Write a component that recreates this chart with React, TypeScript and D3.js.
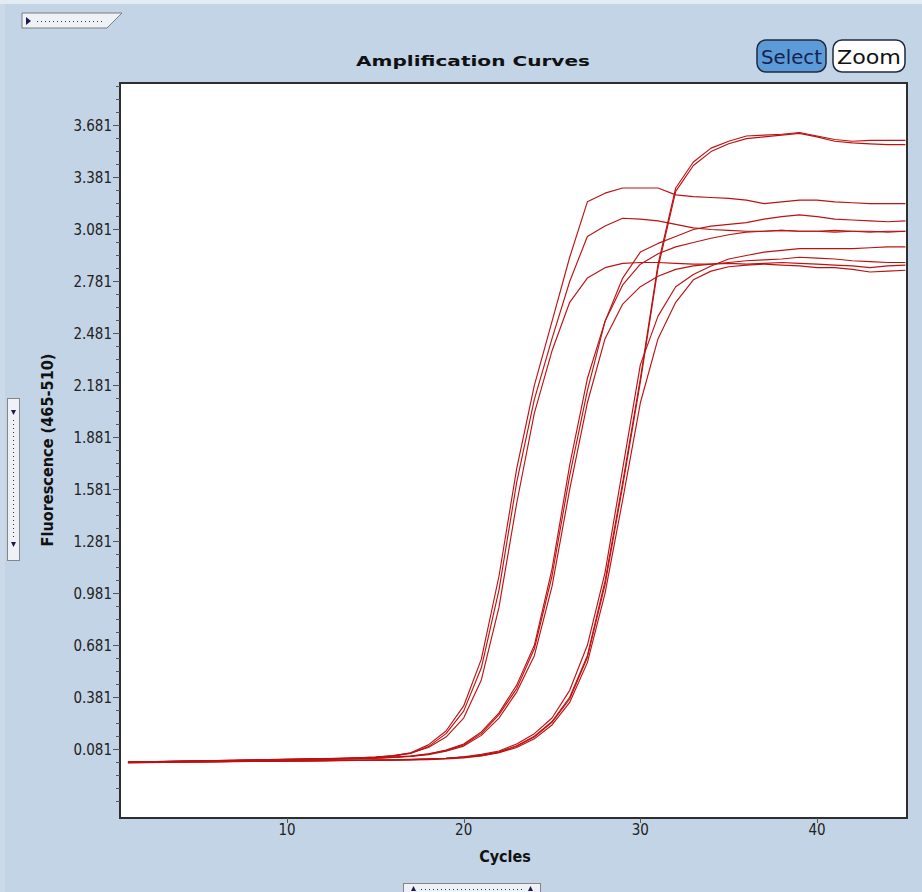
import { useEffect, useRef } from 'react'
import * as d3 from 'd3'

const cycles = [
  1, 2, 3, 4, 5, 6, 7, 8, 9, 10, 11, 12, 13, 14, 15, 16, 17, 18, 19, 20, 21, 22, 23,
  24, 25, 26, 27, 28, 29, 30, 31, 32, 33, 34, 35, 36, 37, 38, 39, 40, 41, 42, 43, 44, 45,
]

// early group
const curveA = [
  0.006, 0.008, 0.009, 0.011, 0.013, 0.014, 0.016, 0.018, 0.02, 0.021, 0.023, 0.025, 0.027, 0.03, 0.034,
  0.042, 0.06, 0.105, 0.185, 0.33, 0.6, 1.08, 1.7, 2.18, 2.55, 2.92, 3.24, 3.29, 3.32, 3.32,
  3.32, 3.28, 3.27, 3.265, 3.26, 3.25, 3.23, 3.24, 3.25, 3.25, 3.24, 3.235, 3.23, 3.23, 3.23,
]
const curveB = [
  0.005, 0.007, 0.009, 0.01, 0.012, 0.014, 0.015, 0.017, 0.019, 0.021, 0.022, 0.024, 0.026, 0.029, 0.032,
  0.04, 0.056, 0.095, 0.17, 0.3, 0.55, 1.0, 1.62, 2.1, 2.45, 2.78, 3.04, 3.1, 3.145, 3.14,
  3.13, 3.11, 3.09, 3.08, 3.075, 3.07, 3.07, 3.075, 3.07, 3.07, 3.065, 3.07, 3.07, 3.065, 3.07,
]
const curveC = [
  0.007, 0.008, 0.01, 0.012, 0.013, 0.015, 0.017, 0.019, 0.02, 0.022, 0.024, 0.026, 0.028, 0.031, 0.035,
  0.043, 0.058, 0.09, 0.15, 0.26, 0.48, 0.9, 1.5, 2.02, 2.38, 2.66, 2.8, 2.86, 2.885, 2.89,
  2.89, 2.885, 2.88, 2.88, 2.885, 2.88, 2.885, 2.89, 2.885, 2.88, 2.875, 2.87, 2.86, 2.87, 2.875,
]

// middle group
const curveM1 = [
  0.005, 0.006, 0.008, 0.009, 0.011, 0.012, 0.014, 0.016, 0.017, 0.019, 0.021, 0.022, 0.024, 0.026, 0.029,
  0.033, 0.04, 0.052, 0.075, 0.11, 0.18, 0.29, 0.45, 0.68, 1.12, 1.72, 2.22, 2.55, 2.8, 2.95,
  3.0, 3.04, 3.08, 3.1, 3.11, 3.12, 3.14, 3.155, 3.165, 3.155, 3.14, 3.135, 3.13, 3.125, 3.13,
]
const curveM2 = [
  0.006, 0.007, 0.009, 0.01, 0.012, 0.013, 0.015, 0.016, 0.018, 0.02, 0.021, 0.023, 0.025, 0.027, 0.03,
  0.034, 0.041, 0.053, 0.072, 0.105, 0.17, 0.28, 0.43, 0.66, 1.08, 1.66, 2.15, 2.55, 2.76, 2.88,
  2.94, 2.98, 3.005, 3.03, 3.05, 3.065, 3.07, 3.075, 3.07, 3.07, 3.075, 3.07, 3.065, 3.07, 3.07,
]
const curveM3 = [
  0.004, 0.006, 0.007, 0.009, 0.01, 0.012, 0.013, 0.015, 0.017, 0.018, 0.02, 0.021, 0.023, 0.025, 0.028,
  0.032, 0.038, 0.049, 0.068, 0.098, 0.16, 0.26, 0.41, 0.62, 1.02, 1.58, 2.08, 2.45, 2.65, 2.75,
  2.81, 2.85, 2.87, 2.88, 2.89, 2.9, 2.905, 2.91, 2.92, 2.915, 2.91, 2.9, 2.895, 2.89, 2.89,
]

// late group
const curveD = [
  0.003, 0.004, 0.005, 0.006, 0.007, 0.008, 0.009, 0.01, 0.011, 0.012, 0.013, 0.014, 0.015, 0.016, 0.017,
  0.018, 0.02, 0.023, 0.028, 0.036, 0.05, 0.07, 0.11, 0.17, 0.26, 0.42, 0.68, 1.1, 1.7, 2.3,
  2.58, 2.75, 2.82, 2.87, 2.91, 2.93, 2.95, 2.96, 2.97, 2.97, 2.97, 2.97, 2.975, 2.98, 2.98,
]
const curveE = [
  0.002, 0.003, 0.004, 0.005, 0.006, 0.007, 0.008, 0.009, 0.01, 0.011, 0.012, 0.013, 0.014, 0.015, 0.016,
  0.017, 0.018, 0.02, 0.024, 0.03, 0.042, 0.06, 0.09, 0.14, 0.22, 0.35, 0.58, 0.98, 1.52, 2.08,
  2.45, 2.66, 2.79, 2.84, 2.865, 2.875, 2.88, 2.875, 2.87, 2.86, 2.86, 2.85, 2.835, 2.84, 2.845,
]
const curveS1 = [
  0.003, 0.004, 0.005, 0.006, 0.007, 0.008, 0.009, 0.01, 0.011, 0.012, 0.013, 0.014, 0.015, 0.016, 0.017,
  0.018, 0.02, 0.023, 0.027, 0.034, 0.045, 0.065, 0.1, 0.155, 0.24, 0.38, 0.62, 1.05, 1.62, 2.22,
  2.88, 3.32, 3.47, 3.55, 3.59, 3.62, 3.625, 3.63, 3.64, 3.62, 3.6, 3.59, 3.595, 3.595, 3.595,
]
const curveS2 = [
  0.004, 0.005, 0.006, 0.007, 0.008, 0.009, 0.01, 0.011, 0.012, 0.013, 0.014, 0.015, 0.016, 0.017, 0.018,
  0.019, 0.021, 0.024, 0.028, 0.035, 0.043, 0.062, 0.097, 0.15, 0.235, 0.37, 0.61, 1.03, 1.6, 2.2,
  2.86, 3.3, 3.45, 3.53, 3.575, 3.605, 3.615, 3.625, 3.635, 3.615, 3.59, 3.58, 3.575, 3.57, 3.57,
]

const yTickLabels = ['3.681', '3.381', '3.081', '2.781', '2.481', '2.181', '1.881', '1.581', '1.281', '0.981', '0.681', '0.381', '0.081']
const xTickLabels = [10, 20, 30, 40]

const allCurves = [curveA, curveB, curveC, curveM1, curveM2, curveM3, curveD, curveE, curveS1, curveS2]

const W = 922
const H = 892

export default function App() {
  const svgRef = useRef<SVGSVGElement>(null)

  useEffect(() => {
    if (!svgRef.current) return
    const svg = d3.select(svgRef.current)
    svg.selectAll('*').remove()

    const plot = { left: 120, top: 83, right: 907, bottom: 818 }
    const tickFont = '"DejaVu Sans Condensed", "DejaVu Sans", sans-serif'

    const x = d3.scaleLinear().domain([0.55, 45.09]).range([plot.left, plot.right])
    const y = d3.scaleLinear().domain([-0.317, 3.926]).range([plot.bottom, plot.top])

    // background
    svg.append('rect').attr('width', W).attr('height', H).attr('fill', '#c2d4e6')
    svg.append('rect').attr('width', W).attr('height', 4).attr('fill', '#e3ebf3')
    svg.append('rect').attr('y', 4).attr('width', 5).attr('height', H).attr('fill', '#cbd9e8')

    // top-left tab
    svg.append('polygon')
      .attr('points', '22,13 122,13 107,28 22,28')
      .attr('fill', '#eef1f5')
      .attr('stroke', '#7d7d7d')
    svg.append('path').attr('d', 'M26,17 L31,21 L26,25 Z').attr('fill', '#1b1b4d')
    svg.append('line')
      .attr('x1', 37).attr('x2', 102).attr('y1', 21.5).attr('y2', 21.5)
      .attr('stroke', '#333').attr('stroke-dasharray', '1,3')

    // left tab
    svg.append('rect')
      .attr('x', 7.5).attr('y', 398.5).attr('width', 12).attr('height', 162)
      .attr('fill', '#eef1f5').attr('stroke', '#858585')
    svg.append('path').attr('d', 'M11,410 L16,410 L13.5,415 Z').attr('fill', '#1b1b4d')
    svg.append('path').attr('d', 'M11,542 L16,542 L13.5,547 Z').attr('fill', '#1b1b4d')
    svg.append('line')
      .attr('x1', 13.5).attr('x2', 13.5).attr('y1', 420).attr('y2', 538)
      .attr('stroke', '#333').attr('stroke-dasharray', '1,3')

    // bottom tab
    svg.append('rect')
      .attr('x', 403.5).attr('y', 883.5).attr('width', 137).attr('height', 14)
      .attr('fill', '#eef1f5').attr('stroke', '#858585')
    svg.append('path').attr('d', 'M411,891 L416,891 L413.5,886 Z').attr('fill', '#1b1b4d')
    svg.append('path').attr('d', 'M528,891 L533,891 L530.5,886 Z').attr('fill', '#1b1b4d')
    svg.append('line')
      .attr('x1', 421).attr('x2', 523).attr('y1', 889.5).attr('y2', 889.5)
      .attr('stroke', '#333').attr('stroke-dasharray', '1,3')

    // title
    svg.append('text')
      .attr('x', 356).attr('y', 66)
      .attr('textLength', 234).attr('lengthAdjust', 'spacingAndGlyphs')
      .attr('font-family', '"DejaVu Sans", sans-serif')
      .attr('font-weight', 'bold').attr('font-size', 14.5)
      .attr('fill', '#111')
      .text('Amplification Curves')

    // buttons
    const buttons = [
      { label: 'Select', x: 757, w: 69, fill: '#5c9bd7', color: '#16224e' },
      { label: 'Zoom', x: 833, w: 72, fill: '#ffffff', color: '#111' },
    ]
    buttons.forEach(b => {
      svg.append('rect')
        .attr('x', b.x).attr('y', 40).attr('width', b.w).attr('height', 32).attr('rx', 9)
        .attr('fill', b.fill).attr('stroke', '#1f2a3e').attr('stroke-width', 1.5)
      svg.append('text')
        .attr('x', b.x + b.w / 2).attr('y', 64)
        .attr('text-anchor', 'middle')
        .attr('textLength', b.w - 8).attr('lengthAdjust', 'spacingAndGlyphs')
        .attr('font-family', tickFont).attr('font-size', 20)
        .attr('fill', b.color)
        .text(b.label)
    })

    // plot frame
    svg.append('rect')
      .attr('x', plot.left).attr('y', plot.top)
      .attr('width', plot.right - plot.left).attr('height', plot.bottom - plot.top)
      .attr('fill', '#ffffff').attr('stroke', '#2e2e2e').attr('stroke-width', 2)

    svg.append('defs').append('clipPath').attr('id', 'plotClip')
      .append('rect')
      .attr('x', plot.left + 1).attr('y', plot.top + 1)
      .attr('width', plot.right - plot.left - 2).attr('height', plot.bottom - plot.top - 2)

    // curves
    const line = d3.line<number>()
      .x((_, i) => x(cycles[i]))
      .y(d => y(d))

    svg.append('g')
      .attr('clip-path', 'url(#plotClip)')
      .selectAll('path')
      .data(allCurves)
      .enter()
      .append('path')
      .attr('d', d => line(d))
      .attr('fill', 'none')
      .attr('stroke', '#bd1212')
      .attr('stroke-width', 1.15)
      .attr('stroke-linejoin', 'round')

    // y axis
    const yMajor = yTickLabels.map(Number)
    const yMinor: number[] = []
    const step = (yMajor[0] - yMajor[1]) / 4
    for (let v = yMajor[yMajor.length - 1] - 4 * step; v < 3.92; v += step) {
      if (!yMajor.some(m => Math.abs(m - v) < 1e-6)) yMinor.push(v)
    }
    const yAxis = svg.append('g')
    yAxis.selectAll('line.minor')
      .data(yMinor.filter(v => y(v) > plot.top + 2 && y(v) < plot.bottom - 2))
      .enter().append('line')
      .attr('x1', plot.left - 4).attr('x2', plot.left)
      .attr('y1', d => Math.round(y(d)) + 0.5).attr('y2', d => Math.round(y(d)) + 0.5)
      .attr('stroke', '#555')
    yAxis.selectAll('line.major')
      .data(yMajor)
      .enter().append('line')
      .attr('x1', plot.left - 7).attr('x2', plot.left)
      .attr('y1', d => Math.round(y(d)) + 0.5).attr('y2', d => Math.round(y(d)) + 0.5)
      .attr('stroke', '#555')
    yAxis.selectAll('text')
      .data(yTickLabels)
      .enter().append('text')
      .attr('x', plot.left - 8)
      .attr('y', d => y(Number(d)) + 5.5)
      .attr('text-anchor', 'end')
      .attr('font-family', tickFont).attr('font-size', 15)
      .attr('fill', '#222')
      .text(d => d)

    // x axis
    const xAxis = svg.append('g')
    xAxis.selectAll('line')
      .data(xTickLabels)
      .enter().append('line')
      .attr('x1', d => Math.round(x(d)) + 0.5).attr('x2', d => Math.round(x(d)) + 0.5)
      .attr('y1', plot.bottom).attr('y2', plot.bottom + 5)
      .attr('stroke', '#555')
    xAxis.selectAll('text')
      .data(xTickLabels)
      .enter().append('text')
      .attr('x', d => x(d))
      .attr('y', plot.bottom + 17)
      .attr('text-anchor', 'middle')
      .attr('font-family', tickFont).attr('font-size', 15)
      .attr('fill', '#222')
      .text(d => String(d))

    // axis titles
    svg.append('text')
      .attr('x', 505).attr('y', 862)
      .attr('text-anchor', 'middle')
      .attr('font-family', tickFont).attr('font-weight', 'bold').attr('font-size', 16)
      .attr('fill', '#111')
      .text('Cycles')

    svg.append('text')
      .attr('transform', 'translate(53, 450) rotate(-90)')
      .attr('text-anchor', 'middle')
      .attr('textLength', 193).attr('lengthAdjust', 'spacingAndGlyphs')
      .attr('font-family', tickFont).attr('font-weight', 'bold').attr('font-size', 15)
      .attr('fill', '#111')
      .text('Fluorescence (465-510)')
  }, [])

  return (
    <div style={{ position: 'absolute', left: 0, top: 0 }}>
      <svg ref={svgRef} width={W} height={H} style={{ display: 'block' }} />
    </div>
  )
}
